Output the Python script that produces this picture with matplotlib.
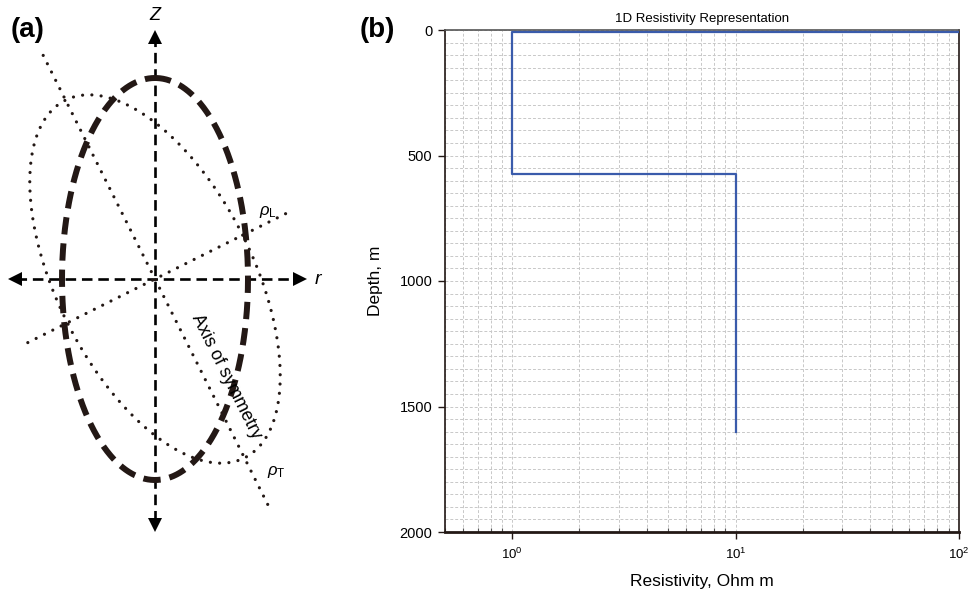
import numpy as np
import matplotlib
matplotlib.use("Agg")
import matplotlib.pyplot as plt
from matplotlib.ticker import LogLocator, MultipleLocator, NullFormatter

plt.rcParams['font.family'] = ['Liberation Sans', 'DejaVu Sans']
plt.rcParams['mathtext.fontset'] = 'custom'
plt.rcParams['mathtext.rm'] = 'Liberation Sans'
plt.rcParams['mathtext.it'] = 'Liberation Sans:italic'

# ---- (b) layered 1D resistivity model ----
resistivity = [100, 1, 1, 10, 10]      # Ohm m
depth = [8, 8, 575, 575, 1600]         # m
x_ticks = [1, 10, 100]
y_ticks = [0, 500, 1000, 1500, 2000]

# ---- (a) anisotropy sketch geometry (sketch units, y downwards) ----
centre = (155, 279)
outer_semi_axes = (93, 201)            # thick dashed ellipse (r, z)
aniso_semi_axes = (200, 98)            # dotted ellipse (along / across symmetry axis)
symmetry_dir = np.array([0.447, 0.894])
symmetry_extent = (-250, 252)
transverse_extent = (-146, 151)
z_extent = (36, 526)
r_extent = (16, 299)

INK = '#231815'

fig = plt.figure(figsize=(9.71, 5.97), dpi=100)

# ======== panel (a) ========
axa = fig.add_axes([0, 0, 350 / 971, 1])
axa.set_xlim(0, 350)
axa.set_ylim(597, 0)
axa.axis('off')

cx, cy = centre
# coordinate axes
axa.plot([cx, cx], z_extent, color='black', lw=1.9, ls=(0, (4, 2.2)), dash_capstyle='butt')
axa.plot(r_extent, [cy, cy], color='black', lw=1.9, ls=(0, (4, 2.2)), dash_capstyle='butt')
axa.plot(cx, z_extent[0] + 1, marker='^', ms=10, color='black', mew=0)
axa.plot(cx, z_extent[1] - 1, marker='v', ms=10, color='black', mew=0)
axa.plot(r_extent[0] - 1, cy, marker='<', ms=10, color='black', mew=0)
axa.plot(r_extent[1] + 1, cy, marker='>', ms=10, color='black', mew=0)

# thick dashed ellipse
t = np.linspace(0, 2 * np.pi, 721) + np.pi / 2
ex = cx + outer_semi_axes[0] * np.cos(t)
ey = cy - outer_semi_axes[1] * np.sin(t)
axa.plot(ex, ey, color=INK, lw=4.3, ls=(1.2, (2.9, 1.5)), dash_capstyle='butt')

# tilted dotted ellipse
u = symmetry_dir / np.linalg.norm(symmetry_dir)
v = np.array([u[1], -u[0]])
px = cx + aniso_semi_axes[0] * np.cos(t) * u[0] + aniso_semi_axes[1] * np.sin(t) * v[0]
py = cy + aniso_semi_axes[0] * np.cos(t) * u[1] + aniso_semi_axes[1] * np.sin(t) * v[1]
dot = dict(color=INK, lw=2.3, ls=(0, (0.01, 2.9)), dash_capstyle='round')
axa.plot(px, py, **dot)

# symmetry axis and transverse direction
s0, s1 = symmetry_extent
axa.plot([cx + s0 * u[0], cx + s1 * u[0]], [cy + s0 * u[1], cy + s1 * u[1]], **dot)
q0, q1 = transverse_extent
axa.plot([cx - q0 * v[0], cx - q1 * v[0]], [cy - q0 * v[1], cy - q1 * v[1]], **dot)

angle = -np.degrees(np.arctan2(u[1], u[0]))
axa.text(226, 377, 'Axis of symmetry', rotation=angle, rotation_mode='anchor',
         ha='center', va='center', fontsize=13, color='black')
axa.text(cx, 16, 'Z', style='italic', fontsize=13, ha='center', va='center')
axa.text(318, cy, 'r', style='italic', fontsize=14, ha='center', va='center')
axa.text(268, 212, r'$\rho_{\mathrm{L}}$', fontsize=12, ha='center', va='center')
axa.text(276, 472, r'$\rho_{\mathrm{T}}$', fontsize=12, ha='center', va='center')
axa.text(28, 30, '(a)', fontsize=20, fontweight='bold', ha='center', va='center')

# ======== panel (b) ========
left, right, top, bottom = 445, 959, 30, 532
axb = fig.add_axes([left / 971, (597 - bottom) / 597, (right - left) / 971, (bottom - top) / 597])
axb.plot(resistivity, depth, color='#3a5bab', lw=1.6, zorder=3)
axb.set_xscale('log')
axb.set_xlim(0.5, 100)
axb.set_ylim(2000, 0)
axb.set_xticks(x_ticks)
axb.xaxis.set_minor_locator(LogLocator(base=10, subs=np.arange(2, 10)))
axb.xaxis.set_minor_formatter(NullFormatter())
axb.set_yticks(y_ticks)
axb.yaxis.set_minor_locator(MultipleLocator(50))

axb.grid(True, which='both', color='#c8c8c8', lw=0.7, ls=(0, (3, 2)))
axb.set_axisbelow(True)

for side in ['left', 'right', 'top']:
    axb.spines[side].set_color(INK)
    axb.spines[side].set_linewidth(1.2)
axb.spines['bottom'].set_color(INK)
axb.spines['bottom'].set_linewidth(2.0)
axb.spines['top'].set_color('#555555')

axb.tick_params(axis='x', which='major', direction='out', length=5, width=1, color=INK,
                labelsize=9.5, pad=6)
axb.tick_params(axis='x', which='minor', direction='in', length=3, width=0.8, color='#555555')
axb.tick_params(axis='y', which='major', direction='out', length=5, width=1, color=INK,
                labelsize=10.5, pad=4)
axb.tick_params(axis='y', which='minor', length=0)

axb.set_title('1D Resistivity Representation', fontsize=9.5, pad=6)
axb.set_xlabel('Resistivity, Ohm m', fontsize=12.5, labelpad=8)
axb.set_ylabel('Depth, m', fontsize=12.5, labelpad=12)
fig.text(377 / 971, 1 - 30 / 597, '(b)', fontsize=20, fontweight='bold', ha='center', va='center')

fig.savefig('out.png', dpi=100)
